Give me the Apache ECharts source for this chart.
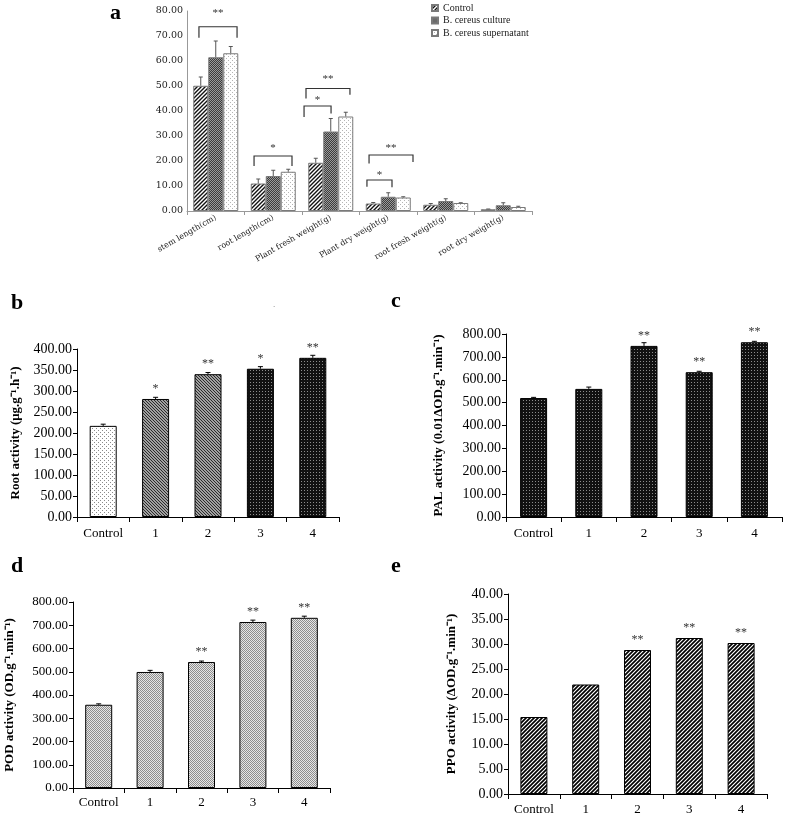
<!DOCTYPE html>
<html>
<head>
<meta charset="utf-8">
<script src="https://cdn.jsdelivr.net/npm/echarts@6/dist/echarts.min.js"></script>
<style>
html,body{margin:0;padding:0;background:#fff;}
#chart{width:787px;height:817px;}
</style>
</head>
<body>
<div id="chart"></div>
<script>
// ---------- DATA ----------
const aCategories = ['stem length(cm)', 'root length(cm)', 'Plant fresh weight(g)', 'Plant dry weight(g)', 'root fresh weight(g)', 'root dry weight(g)'];
const aSeriesNames = ['Control', 'B. cereus culture', 'B. cereus supernatant'];
const aControl = [50.1, 11.0, 19.3, 3.0, 2.5, 0.7];
const aControlErr = [3.5, 1.8, 1.8, 0.4, 0.5, 0.1];
const aCulture = [61.5, 14.0, 31.8, 5.7, 4.0, 2.3];
const aCultureErr = [6.5, 2.3, 5.2, 1.6, 0.9, 1.0];
const aSuper = [63.1, 15.7, 37.8, 5.4, 3.2, 1.6];
const aSuperErr = [2.7, 1.0, 1.7, 0.3, 0.1, 0.3];
// significance brackets of panel a (category, bar positions, heights, label)
const aBracketCat = [0, 1, 2, 2, 3, 3];
const aBracketFrom = [-0.12, -0.28, -0.78, -0.65, -0.42, -0.28];
const aBracketTo = [2.42, 2.25, 1.02, 2.28, 1.25, 2.65];
const aBracketTop = [73.7, 22.0, 42.0, 49.0, 12.4, 22.4];
const aBracketLegL = [69.3, 18.0, 37.6, 45.0, 9.7, 19.0];
const aBracketLegR = [69.3, 18.0, 39.0, 46.5, 9.5, 19.6];
const aBracketStarAt = [80.0, 26.0, 45.0, 53.6, 15.2, 26.0];
const aBracketMark = ['**', '*', '*', '**', '*', '**'];

const treatCategories = ['Control', '1', '2', '3', '4'];

const bValues = [217, 281, 340, 353, 379];
const bErr = [4, 4, 4, 5, 6];
const bStars = ['', '*', '**', '*', '**'];

const cValues = [520, 560, 748, 633, 764];
const cErr = [3, 8, 14, 4, 4];
const cStars = ['', '', '**', '**', '**'];

const dValues = [358, 499, 542, 714, 732];
const dErr = [4, 7, 4, 8, 7];
const dStars = ['', '', '**', '**', '**'];

const eValues = [15.4, 21.9, 28.8, 31.2, 30.2];
const eStars = ['', '', '**', '**', '**'];

const aTicks = {min: 0, max: 80, interval: 10};
const bTicks = {min: 0, max: 400, interval: 50};
const cTicks = {min: 0, max: 800, interval: 100};
const dTicks = {min: 0, max: 800, interval: 100};
const eTicks = {min: 0, max: 40, interval: 5};

// ---------- PATTERNS ----------
function tile(w, h, fn) {
  const c = document.createElement('canvas');
  c.width = w; c.height = h;
  const g = c.getContext('2d');
  fn(g);
  return {image: c, repeat: 'repeat'};
}
function px(g, col, pts) { g.fillStyle = col; pts.forEach(p => g.fillRect(p[0], p[1], 1, 1)); }

const patAControl = tile(4, 4, g => {
  g.fillStyle = '#fff'; g.fillRect(0, 0, 4, 4);
  g.strokeStyle = '#111'; g.lineWidth = 1.4; g.beginPath();
  g.moveTo(-1, 5); g.lineTo(5, -1);
  g.moveTo(-1, 1); g.lineTo(1, -1);
  g.moveTo(3, 5); g.lineTo(5, 3);
  g.stroke();
});
const patACulture = tile(2, 2, g => {
  g.fillStyle = '#3c3c3c'; g.fillRect(0, 0, 2, 2);
  px(g, '#9a9a9a', [[0, 0], [1, 1]]);
});
const patASuper = tile(4, 4, g => {
  g.fillStyle = '#fff'; g.fillRect(0, 0, 4, 4);
  px(g, '#b5b5b5', [[0, 0], [2, 2]]);
});
const patDotsLight = tile(4, 4, g => {
  g.fillStyle = '#fff'; g.fillRect(0, 0, 4, 4);
  px(g, '#8a8a8a', [[0, 0], [2, 2]]);
});
const patBackHatch = tile(3, 3, g => {
  g.fillStyle = '#a0a0a0'; g.fillRect(0, 0, 3, 3);
  px(g, '#2a2a2a', [[0, 0], [1, 1], [2, 2]]);
});
const patDarkDots = tile(3, 3, g => {
  g.fillStyle = '#111'; g.fillRect(0, 0, 3, 3);
  px(g, '#8c8c8c', [[1, 1]]);
});
const patGrayDots = tile(2, 2, g => {
  g.fillStyle = '#e6e6e6'; g.fillRect(0, 0, 2, 2);
  px(g, '#8e8e8e', [[0, 0], [1, 1]]);
});
const patWideHatch = tile(4, 4, g => {
  g.fillStyle = '#fff'; g.fillRect(0, 0, 4, 4);
  g.strokeStyle = '#000'; g.lineWidth = 1.7; g.beginPath();
  g.moveTo(-1, 5); g.lineTo(5, -1);
  g.moveTo(-1, 1); g.lineTo(1, -1);
  g.moveTo(3, 5); g.lineTo(5, 3);
  g.stroke();
});

// ---------- HELPERS ----------
const SERIF = 'Liberation Serif';
const BW_A = 15;
const BW = 27;
const fmt2 = v => v.toFixed(2);

function treatX(gi, margin) {
  return {
    type: 'category', gridIndex: gi, data: treatCategories,
    axisLine: {lineStyle: {color: '#000', width: 1}},
    axisTick: {show: true, length: 5, lineStyle: {color: '#000'}},
    axisLabel: {fontFamily: SERIF, fontSize: 13, color: '#000', margin: margin, interval: 0}
  };
}
function treatY(gi, t, name, gap, fs) {
  return {
    type: 'value', gridIndex: gi, min: t.min, max: t.max, interval: t.interval,
    axisLine: {show: true, lineStyle: {color: '#000'}},
    axisTick: {show: true, length: 4, lineStyle: {color: '#000'}},
    splitLine: {show: false},
    axisLabel: {fontFamily: SERIF, fontSize: fs, color: '#000', margin: 5, formatter: fmt2},
    name: name, nameLocation: 'middle', nameGap: gap, nameRotate: 90,
    nameTextStyle: {fontFamily: SERIF, fontSize: 13, fontWeight: 'bold', color: '#000'}
  };
}
function treatBar(gi, values, colors, stars) {
  return {
    type: 'bar', xAxisIndex: gi, yAxisIndex: gi, barWidth: BW,
    data: values.map((v, i) => ({value: v, itemStyle: {color: colors[i]}})),
    itemStyle: {borderColor: '#000', borderWidth: 1},
    label: {
      show: true, position: 'top', distance: 4,
      fontFamily: SERIF, fontSize: 12, color: '#333',
      formatter: p => stars[p.dataIndex]
    },
    z: 2
  };
}
function errSeries(gi, values, errs) {
  return {
    type: 'custom', xAxisIndex: gi, yAxisIndex: gi, silent: true, z: 3,
    encode: {x: 0, y: 1},
    data: values.map((v, i) => [i, v, errs[i]]),
    renderItem: (params, api) => {
      const i = api.value(0), v = api.value(1), e = api.value(2);
      const p0 = api.coord([i, v]), p1 = api.coord([i, v + e]);
      return {type: 'group', children: [
        {type: 'line', shape: {x1: p0[0], y1: p0[1], x2: p0[0], y2: p1[1]}, style: {stroke: '#000', lineWidth: 1}},
        {type: 'line', shape: {x1: p0[0] - 2.5, y1: p1[1], x2: p0[0] + 2.5, y2: p1[1]}, style: {stroke: '#000', lineWidth: 1}}
      ]};
    }
  };
}

// ---------- PANEL A SERIES ----------
const aVals = [aControl, aCulture, aSuper];
const aErrs = [aControlErr, aCultureErr, aSuperErr];
const aPats = [patAControl, patACulture, patASuper];
const aBarSeries = aSeriesNames.map((n, s) => ({
  type: 'bar', name: n, xAxisIndex: 0, yAxisIndex: 0,
  barWidth: BW_A, barGap: '0%',
  data: aVals[s],
  itemStyle: {color: aPats[s], borderColor: '#7a7a7a', borderWidth: 1},
  z: 2
}));
const aErrData = [];
aVals.forEach((arr, s) => arr.forEach((v, i) => aErrData.push([i, s, v, aErrs[s][i]])));
const aErrSeries = {
  type: 'custom', xAxisIndex: 0, yAxisIndex: 0, silent: true, z: 3,
  encode: {x: 0, y: 2},
  data: aErrData,
  renderItem: (params, api) => {
    const i = api.value(0), s = api.value(1), v = api.value(2), e = api.value(3);
    const p0 = api.coord([i, v]), p1 = api.coord([i, v + e]);
    const x = p0[0] + (s - 1) * BW_A;
    return {type: 'group', children: [
      {type: 'line', shape: {x1: x, y1: p0[1], x2: x, y2: p1[1]}, style: {stroke: '#555', lineWidth: 1}},
      {type: 'line', shape: {x1: x - 2, y1: p1[1], x2: x + 2, y2: p1[1]}, style: {stroke: '#555', lineWidth: 1}}
    ]};
  }
};
const aBracketSeries = {
  type: 'custom', xAxisIndex: 0, yAxisIndex: 0, silent: true, z: 4,
  encode: {x: 0, y: 1},
  data: aBracketCat.map((c, k) => [c, aBracketTop[k]]),
  renderItem: (params, api) => {
    const k = params.dataIndex;
    const c = api.value(0);
    const center = api.coord([c, 0])[0];
    const xl = center + (aBracketFrom[k] - 1) * BW_A;
    const xr = center + (aBracketTo[k] - 1) * BW_A;
    const yt = api.coord([c, aBracketTop[k]])[1];
    const yl = api.coord([c, aBracketLegL[k]])[1];
    const yr = api.coord([c, aBracketLegR[k]])[1];
    const ys = api.coord([c, aBracketStarAt[k]])[1];
    return {type: 'group', children: [
      {type: 'polyline', shape: {points: [[xl, yl], [xl, yt], [xr, yt], [xr, yr]]}, style: {stroke: '#333', lineWidth: 1.2, fill: null}},
      {type: 'text', style: {text: aBracketMark[k], x: (xl + xr) / 2, y: ys + 2, align: 'center', verticalAlign: 'middle', fontFamily: SERIF, fontSize: 11, fill: '#333'}}
    ]};
  }
};

// ---------- OPTION ----------
const option = {
  animation: false,
  backgroundColor: '#fff',
  legend: {
    data: aSeriesNames, orient: 'vertical', left: 431, top: 3, padding: 0,
    itemWidth: 6, itemHeight: 6, itemGap: 2.5, icon: 'rect',
    textStyle: {fontFamily: SERIF, fontSize: 10, color: '#222'}
  },
  grid: [
    {left: 187, top: 11, width: 345, height: 200},
    {left: 77, top: 349, width: 262, height: 168},
    {left: 506, top: 334, width: 276, height: 183},
    {left: 73, top: 602, width: 257, height: 186},
    {left: 508, top: 594, width: 259, height: 200}
  ],
  xAxis: [
    {
      type: 'category', gridIndex: 0, data: aCategories,
      axisLine: {lineStyle: {color: '#999'}},
      axisTick: {show: true, length: 4, lineStyle: {color: '#999'}},
      axisLabel: {fontFamily: 'DejaVu Serif', fontSize: 8, color: '#222', rotate: 30, margin: 6, interval: 0}
    },
    treatX(1, 10), treatX(2, 10), treatX(3, 8), treatX(4, 9)
  ],
  yAxis: [
    {
      type: 'value', gridIndex: 0, min: aTicks.min, max: aTicks.max, interval: aTicks.interval,
      axisLine: {show: true, lineStyle: {color: '#999'}},
      axisTick: {show: false},
      splitLine: {show: false},
      axisLabel: {fontFamily: 'DejaVu Serif', fontSize: 9.5, color: '#222', margin: 4, formatter: fmt2}
    },
    treatY(1, bTicks, 'Root activity (μg.g⁻¹.h⁻¹)', 55, 14),
    treatY(2, cTicks, 'PAL activity (0.01ΔOD.g⁻¹.min⁻¹)', 61, 14),
    treatY(3, dTicks, 'POD activity (OD.g⁻¹.min⁻¹)', 57, 13),
    treatY(4, eTicks, 'PPO activity (ΔOD.g⁻¹.min⁻¹)', 50, 14)
  ],
  series: [
    ...aBarSeries, aErrSeries, aBracketSeries,
    treatBar(1, bValues, [patDotsLight, patBackHatch, patBackHatch, patDarkDots, patDarkDots], bStars),
    errSeries(1, bValues, bErr),
    treatBar(2, cValues, cValues.map(() => patDarkDots), cStars),
    errSeries(2, cValues, cErr),
    treatBar(3, dValues, dValues.map(() => patGrayDots), dStars),
    errSeries(3, dValues, dErr),
    treatBar(4, eValues, eValues.map(() => patWideHatch), eStars)
  ],
  graphic: [
    {type: 'text', left: 110, top: 2, style: {text: 'a', fontFamily: SERIF, fontSize: 22, fontWeight: 'bold', fill: '#000'}},
    {type: 'text', left: 11, top: 292, style: {text: 'b', fontFamily: SERIF, fontSize: 22, fontWeight: 'bold', fill: '#000'}},
    {type: 'text', left: 391, top: 290, style: {text: 'c', fontFamily: SERIF, fontSize: 22, fontWeight: 'bold', fill: '#000'}},
    {type: 'text', left: 11, top: 555, style: {text: 'd', fontFamily: SERIF, fontSize: 22, fontWeight: 'bold', fill: '#000'}},
    {type: 'text', left: 391, top: 555, style: {text: 'e', fontFamily: SERIF, fontSize: 22, fontWeight: 'bold', fill: '#000'}},
    {type: 'text', left: 273, top: 300, style: {text: '.', fontFamily: SERIF, fontSize: 9, fill: '#777'}}
  ]
};

const chart = echarts.init(document.getElementById('chart'), null, {renderer: 'canvas'});
chart.setOption(option);
</script>
</body>
</html>
